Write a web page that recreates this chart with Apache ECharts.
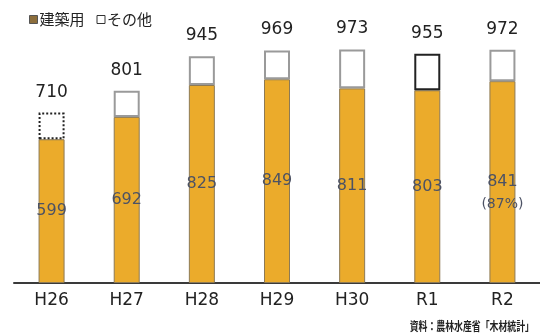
<!DOCTYPE html>
<html><head><meta charset="utf-8">
<script src="https://cdn.jsdelivr.net/npm/echarts@6/dist/echarts.min.js"></script>
<style>html,body{margin:0;padding:0;background:#fff}#c{width:540px;height:334px}</style>
</head><body><div id="c"></div>
<script>
var categories = ['H26','H27','H28','H29','H30','R1','R2'];
var building = [599, 692, 825, 849, 811, 803, 841];
var totals = [710, 801, 945, 969, 973, 955, 972];
var r2Share = '(87%)';
var other = totals.map(function(t,i){ return t - building[i]; });

var chart = echarts.init(document.getElementById('c'));
var otherBorder = ['#222','#9a9a9a','#9a9a9a','#9a9a9a','#9a9a9a','#222','#9a9a9a'];
var otherBorderType = ['dotted','solid','solid','solid','solid','solid','solid'];

var buildingData = building.map(function(v,i){
  var d = {value: v};
  if (i === building.length - 1) {
    d.label = {
      formatter: function(p){ return '{a|' + p.value + '}\n{b|' + r2Share + '}'; },
      offset: [0, 11]
    };
  }
  return d;
});
var otherData = other.map(function(v,i){
  return {value: v, itemStyle: {borderColor: otherBorder[i], borderType: otherBorderType[i]}};
});

chart.setOption({
  animation: false,
  backgroundColor: '#fff',
  textStyle: {fontFamily: 'DejaVu Sans'},
  legend: {
    left: 24, top: 7, itemWidth: 8, itemHeight: 8, itemGap: 12,
    icon: 'rect',
    textStyle: {fontSize: 15, color: '#222', fontFamily: 'Noto Sans CJK JP', padding: [0,0,0,-3]},
    data: [
      {name: '建築用', itemStyle: {color: '#8c6e3c', borderColor: '#555', borderWidth: 1}},
      {name: 'その他', itemStyle: {color: '#fff', borderColor: '#333', borderWidth: 1}}
    ]
  },
  grid: {left: 14, right: -4, top: 43, bottom: 51},
  xAxis: {
    type: 'category', data: categories,
    axisLine: {lineStyle: {color: '#3a3a3a', width: 2}},
    axisTick: {show: false},
    axisLabel: {fontSize: 17, color: '#222', margin: 9, fontFamily: 'DejaVu Sans'}
  },
  yAxis: {
    type: 'value', min: 0, max: 1000,
    axisLine: {show: false}, axisTick: {show: false},
    axisLabel: {show: false}, splitLine: {show: false}
  },
  series: [
    {
      name: '建築用', type: 'bar', stack: 'a', barWidth: 26,
      itemStyle: {color: '#EBAB2B', borderColor: '#8d7a55', borderWidth: 1},
      label: {
        show: true, position: 'inside', fontSize: 16, color: '#4c5264',
        fontFamily: 'DejaVu Sans',
        rich: {
          a: {fontSize: 16, color: '#4c5264', fontFamily: 'DejaVu Sans', lineHeight: 22},
          b: {fontSize: 14, color: '#4c5264', fontFamily: 'DejaVu Sans', lineHeight: 22}
        }
      },
      data: buildingData
    },
    {
      name: 'その他', type: 'bar', stack: 'a', barWidth: 26,
      itemStyle: {color: '#fff', borderColor: '#9a9a9a', borderWidth: 2},
      label: {
        show: true, position: 'top', distance: 12, fontSize: 17, color: '#222',
        fontFamily: 'DejaVu Sans',
        formatter: function(p){ return totals[p.dataIndex]; }
      },
      data: otherData
    }
  ],
  graphic: [{
    type: 'text', x: 534, y: 326, scaleX: 0.74,
    style: {x: 0, y: 0, align: 'right', verticalAlign: 'middle',
      text: '資料：農林水産省「木材統計」', fontSize: 12, fontWeight: 'bold', fill: '#222', fontFamily: 'Noto Sans CJK JP'}
  }]
});
</script>
</body></html>
